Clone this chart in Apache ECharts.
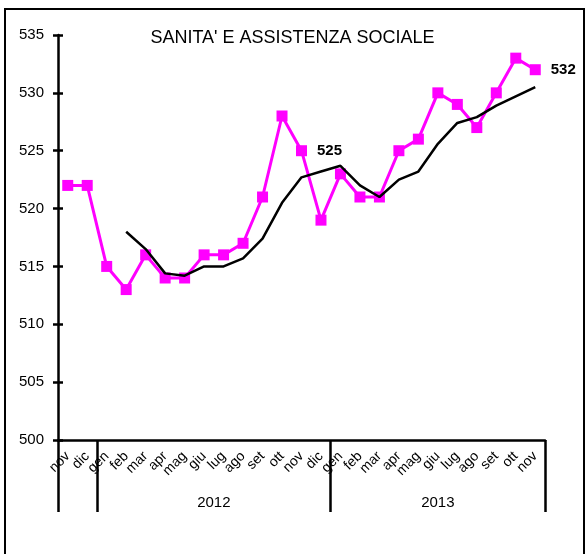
<!DOCTYPE html>
<html>
<head>
<meta charset="utf-8">
<script src="https://cdn.jsdelivr.net/npm/echarts@6/dist/echarts.min.js"></script>
<style>html,body{margin:0;padding:0;background:#fff;}#c{width:585px;height:554px;}</style>
</head>
<body>
<div id="c"></div>
<script>
var months = ['nov','dic','gen','feb','mar','apr','mag','giu','lug','ago','set','ott','nov','dic','gen','feb','mar','apr','mag','giu','lug','ago','set','ott','nov'];
var values = [522,522,515,513,516,514,514,516,516,517,521,528,525,519,523,521,521,525,526,530,529,527,530,533,532];
var trend = [null,null,null,518.0,516.5,514.4,514.2,515.0,515.0,515.7,517.4,520.5,522.7,523.2,523.7,522.0,521.0,522.5,523.2,525.6,527.4,527.9,528.9,529.7,530.5];
var labeledIdx = [12,24];
var years = ['2012','2013'];
var yearCenters = [8,19.5];
var yearBounds = [0,2,14,25];
var yTicks = {min:500,max:535,interval:5};

var chart = echarts.init(document.getElementById('c'));
var font = 'Liberation Sans, Arial, sans-serif';
chart.setOption({
  animation:false,
  title:{text:"SANITA' E ASSISTENZA SOCIALE",left:'center',top:24,textStyle:{fontFamily:font,fontSize:18,fontWeight:'normal',color:'#000'}},
  graphic:[{type:'rect',shape:{x:5,y:9,width:579,height:560},style:{fill:'none',stroke:'#000',lineWidth:2},silent:true}],
  grid:{left:58,right:40,top:35,bottom:114,containLabel:false},
  xAxis:[{
    type:'category',data:months,boundaryGap:true,
    axisLine:{lineStyle:{color:'#000',width:2.5}},
    axisTick:{show:false},
    axisLabel:{interval:0,rotate:45,margin:14,fontFamily:font,fontSize:14,color:'#000'}
  },{
    type:'value',min:0,max:25,position:'bottom',
    axisLine:{show:false},
    splitLine:{show:false},
    axisTick:{show:true,customValues:yearBounds,length:72,lineStyle:{color:'#000',width:2.5}},
    axisLabel:{show:true,customValues:yearCenters,margin:55,fontFamily:font,fontSize:15,color:'#000',
      formatter:function(v){var i=yearCenters.indexOf(v);return i>=0?years[i]:'';}}
  }],
  yAxis:[{
    type:'value',min:yTicks.min,max:yTicks.max,interval:yTicks.interval,
    axisLine:{show:true,lineStyle:{color:'#000',width:2.5}},
    axisTick:{show:true,length:5,lineStyle:{color:'#000',width:2.5}},
    axisLabel:{margin:14,fontFamily:font,fontSize:15,color:'#000'},
    splitLine:{show:false}
  },{
    type:'value',min:yTicks.min,max:yTicks.max,interval:yTicks.interval,position:'left',
    axisLine:{show:false},
    axisTick:{show:true,inside:true,length:5,lineStyle:{color:'#000',width:2.5}},
    axisLabel:{show:false},splitLine:{show:false}
  }],
  series:[{
    type:'line',xAxisIndex:0,yAxisIndex:0,
    data:values.map(function(v,i){return labeledIdx.indexOf(i)>=0?{value:v,label:{show:true}}:v;}),
    symbol:'rect',symbolSize:11,
    lineStyle:{color:'#ff00ff',width:3},
    itemStyle:{color:'#ff00ff'},
    label:{show:false,position:'right',distance:10,fontFamily:font,fontSize:15,fontWeight:'bold',color:'#000'},
    z:2
  },{
    type:'line',xAxisIndex:0,yAxisIndex:0,
    data:trend,symbol:'none',
    lineStyle:{color:'#000',width:2.5},z:3
  }]
});
</script>
</body>
</html>
